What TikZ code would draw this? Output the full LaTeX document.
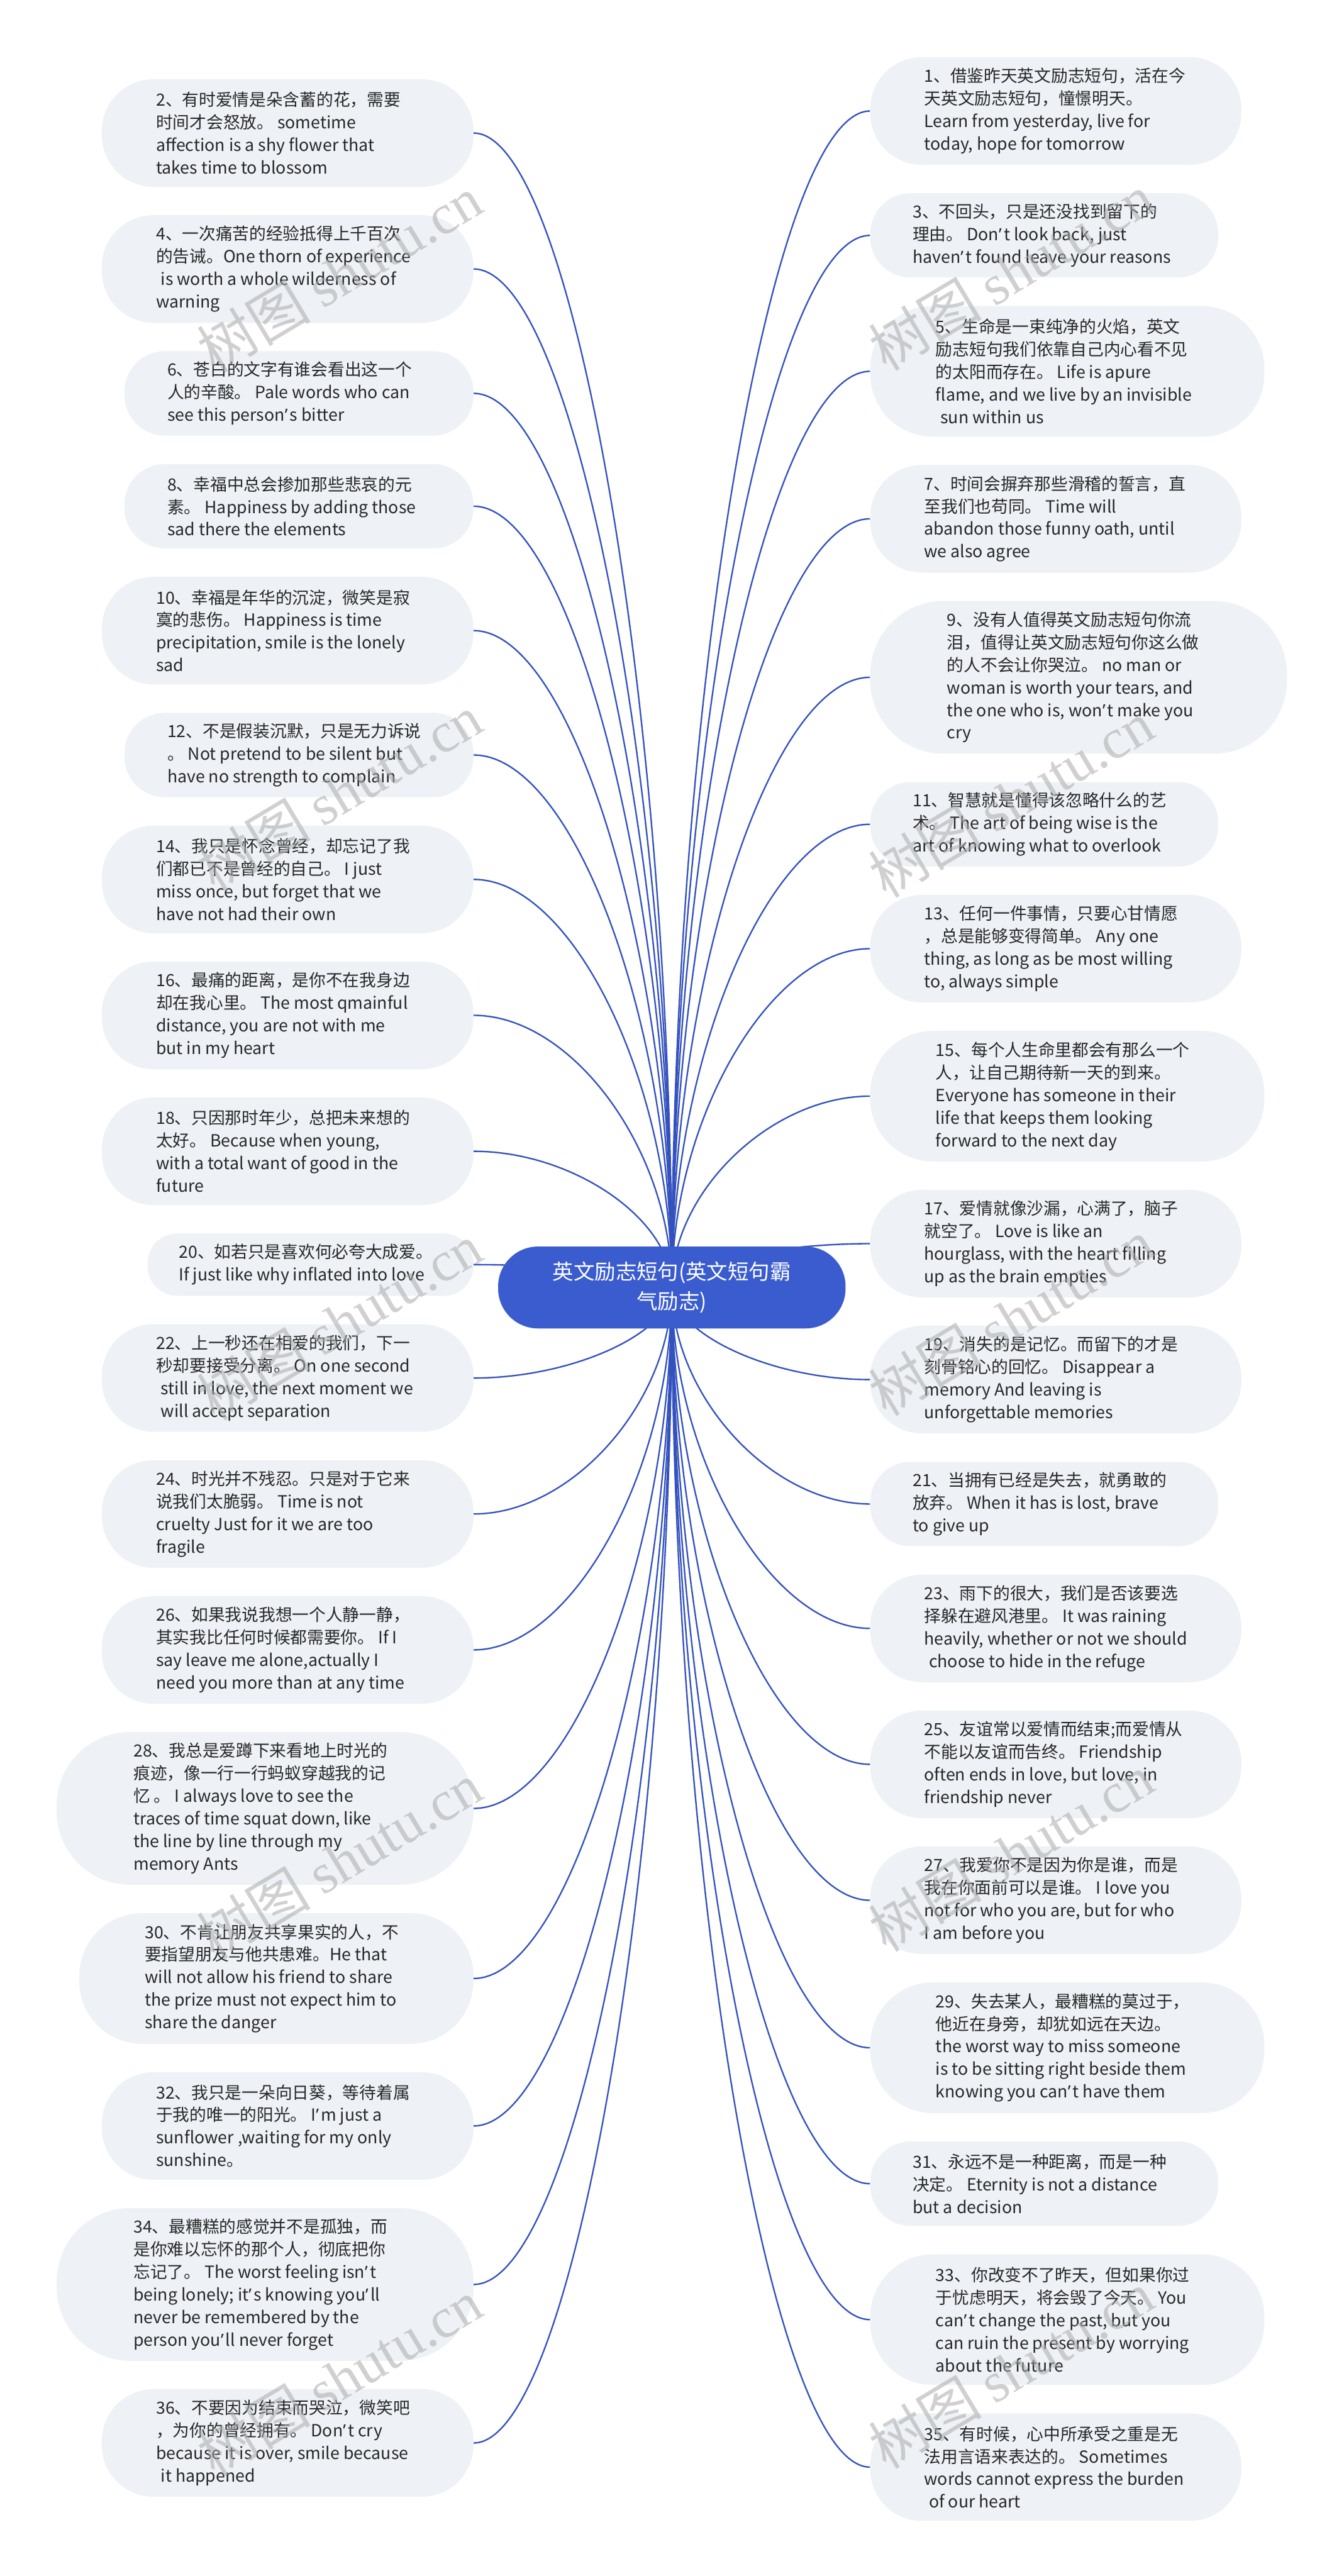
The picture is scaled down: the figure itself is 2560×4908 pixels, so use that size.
\documentclass[tikz,border=0pt]{standalone}
\usepackage{fontspec}
\setmainfont{Noto Sans CJK SC}
\newfontfamily\cjk{Noto Sans CJK SC}
\newfontfamily\latfont{Noto Sans}
\newfontfamily\wmfont{Liberation Serif}
\usetikzlibrary{calc}
\definecolor{pillfill}{RGB}{238,241,246}
\definecolor{txtcol}{RGB}{40,40,40}
\definecolor{rootblue}{RGB}{58,92,206}
\definecolor{linecol}{RGB}{52,82,190}
\definecolor{wmcol}{RGB}{170,170,170}
\pgfdeclarelayer{back}
\pgfdeclarelayer{bg}
\pgfsetlayers{back,bg,main}
\tikzset{
  pill/.style={fill=pillfill, draw=none, rectangle, inner sep=0pt},
  txt/.style={anchor=west, align=left, inner sep=0pt, text=txtcol,
    font=\fontsize{16pt}{21.5pt}\selectfont},
  conn/.style={draw=linecol, line width=1.4pt},
  rootbox/.style={fill=rootblue, text=white, align=center, inner sep=0pt,
    minimum width=331pt, minimum height=78pt, rounded corners=38pt,
    font=\fontsize{20pt}{28pt}\selectfont},
  wmark/.style={text=wmcol, opacity=0.55, inner sep=0pt, rotate=31,
    font=\fontsize{54pt}{60pt}\selectfont}
}
\newcommand\lnode[5]{%
  \node[pill, minimum width={(902-#2)*0.5pt}, minimum height={#4*0.5pt}, rounded corners={#4*0.24pt}] (p#1) at ({(902+#2)/2}, #3) {};
  \node[txt] (t#1) at ({(902+#2)/2-251}, #3) {#5};
}
\newcommand\rnode[5]{%
  \node[pill, minimum width={(#2-1658)*0.5pt}, minimum height={#4*0.5pt}, rounded corners={#4*0.24pt}] (p#1) at ({(1658+#2)/2}, #3) {};
  \node[txt] (t#1) at ({(1658+#2)/2-251}, #3) {#5};
}
\newcommand\lconn[1]{%
  \coordinate (k#1) at (root.center |- p#1.east);
  \draw[conn] (root.center) .. controls ($(root.center)!0.5!(k#1)$) and ($(p#1.east)!0.5!(k#1)$) .. (p#1.east);
}
\newcommand\rconn[1]{%
  \coordinate (k#1) at (root.center |- p#1.west);
  \draw[conn] (root.center) .. controls ($(root.center)!0.5!(k#1)$) and ($(p#1.west)!0.5!(k#1)$) .. (p#1.west);
}
\newcommand\lsp{\hspace*{0.28em}}
\newcommand\ap{{\latfont ’}\hspace{0.12em}}
\begin{document}
\begin{tikzpicture}[x=0.5pt, y=-0.5pt]
\begin{pgfonlayer}{back}
\fill[white] (0,0) rectangle (2560,4908);
\end{pgfonlayer}
\useasboundingbox (0,0) rectangle (2560,4908);

\node[rootbox] (root) at (1280,2453) {英文励志短句(英文短句霸\\气励志)};

% left column
\lnode{2}{194}{253.5}{205}{2、有时爱情是朵含蓄的花，需要\\时间才会怒放。 sometime\\affection is a shy flower that\\takes time to blossom}
\lnode{4}{194}{512.5}{205}{4、一次痛苦的经验抵得上千百次\\的告诫。One thorn of experience\\\lsp is worth a whole wilderness of\\warning}
\lnode{6}{237}{749.5}{161}{6、苍白的文字有谁会看出这一个\\人的辛酸。 Pale words who can\\see this person\ap s bitter}
\lnode{8}{237}{964.5}{161}{8、幸福中总会掺加那些悲哀的元\\素。 Happiness by adding those\\sad there the elements}
\lnode{10}{194}{1201.5}{205}{10、幸福是年华的沉淀，微笑是寂\\寞的悲伤。 Happiness is time\\precipitation, smile is the lonely\\sad}
\lnode{12}{237}{1438.5}{161}{12、不是假装沉默，只是无力诉说\\。 Not pretend to be silent but\\have no strength to complain}
\lnode{14}{194}{1675.5}{205}{14、我只是怀念曾经，却忘记了我\\们都已不是曾经的自己。 I just\\miss once, but forget that we\\have not had their own}
\lnode{16}{194}{1934.5}{205}{16、最痛的距离，是你不在我身边\\却在我心里。 The most qmainful\\distance, you are not with me\\but in my heart}
\lnode{18}{194}{2193.5}{205}{18、只因那时年少，总把未来想的\\太好。 Because when young,\\with a total want of good in the\\future}
\lnode{20}{281}{2409.5}{119}{20、如若只是喜欢何必夸大成爱。\\If just like why inflated into love}
\lnode{22}{194}{2625.5}{205}{22、上一秒还在相爱的我们，下一\\秒却要接受分离。 On one second\\\lsp still in love, the next moment we\\\lsp will accept separation}
\lnode{24}{194}{2884.5}{205}{24、时光并不残忍。只是对于它来\\说我们太脆弱。 Time is not\\cruelty Just for it we are too\\fragile}
\lnode{26}{194}{3143.5}{205}{26、如果我说我想一个人静一静，\\其实我比任何时候都需要你。 If I\\say leave me alone,actually I\\need you more than at any time}
\lnode{28}{108}{3445.5}{291}{28、我总是爱蹲下来看地上时光的\\痕迹，像一行一行蚂蚁穿越我的记\\忆 。 I always love to see the\\traces of time squat down, like\\the line by line through my\\memory Ants}
\lnode{30}{151}{3769.5}{249}{30、不肯让朋友共享果实的人，不\\要指望朋友与他共患难。He that\\will not allow his friend to share\\the prize must not expect him to\\share the danger}
\lnode{32}{194}{4050.5}{205}{32、我只是一朵向日葵，等待着属\\于我的唯一的阳光。 I\ap m just a\\sunflower ,waiting for my only\\sunshine。}
\lnode{34}{108}{4352.5}{291}{34、最糟糕的感觉并不是孤独，而\\是你难以忘怀的那个人，彻底把你\\忘记了。 The worst feeling isn\ap t\\being lonely; it\ap s knowing you\ap ll\\never be remembered by the\\person you\ap ll never forget}
\lnode{36}{194}{4654.5}{205}{36、不要因为结束而哭泣，微笑吧\\，为你的曾经拥有。 Don\ap t cry\\because it is over, smile because\\\lsp it happened}

% right column
\rnode{1}{2365}{211.5}{205}{1、借鉴昨天英文励志短句，活在今\\天英文励志短句，憧憬明天。\\Learn from yesterday, live for\\today, hope for tomorrow}
\rnode{3}{2321}{448.5}{161}{3、不回头，只是还没找到留下的\\理由。 Don\ap t look back, just\\haven\ap t found leave your reasons}
\rnode{5}{2409}{707.5}{249}{5、生命是一束纯净的火焰，英文\\励志短句我们依靠自己内心看不见\\的太阳而存在。 Life is apure\\flame, and we live by an invisible\\\lsp sun within us}
\rnode{7}{2365}{988.5}{205}{7、时间会摒弃那些滑稽的誓言，直\\至我们也苟同。 Time will\\abandon those funny oath, until\\we also agree}
\rnode{9}{2452}{1290.5}{291}{9、没有人值得英文励志短句你流\\泪，值得让英文励志短句你这么做\\的人不会让你哭泣。 no man or\\woman is worth your tears, and\\the one who is, won\ap t make you\\cry}
\rnode{11}{2321}{1570.5}{161}{11、智慧就是懂得该忽略什么的艺\\术。 The art of being wise is the\\art of knowing what to overlook}
\rnode{13}{2365}{1807.5}{205}{13、任何一件事情，只要心甘情愿\\，总是能够变得简单。 Any one\\thing, as long as be most willing\\to, always simple}
\rnode{15}{2409}{2088.5}{249}{15、每个人生命里都会有那么一个\\人，让自己期待新一天的到来。\\Everyone has someone in their\\life that keeps them looking\\forward to the next day}
\rnode{17}{2365}{2369.5}{205}{17、爱情就像沙漏，心满了，脑子\\就空了。 Love is like an\\hourglass, with the heart filling\\up as the brain empties}
\rnode{19}{2365}{2628.5}{205}{19、消失的是记忆。而留下的才是\\刻骨铭心的回忆。 Disappear a\\memory And leaving is\\unforgettable memories}
\rnode{21}{2321}{2865.5}{161}{21、当拥有已经是失去，就勇敢的\\放弃。 When it has is lost, brave\\to give up}
\rnode{23}{2365}{3102.5}{205}{23、雨下的很大，我们是否该要选\\择躲在避风港里。 It was raining\\heavily, whether or not we should\\\lsp choose to hide in the refuge}
\rnode{25}{2365}{3361.5}{205}{25、友谊常以爱情而结束;而爱情从\\不能以友谊而告终。 Friendship\\often ends in love, but love, in\\friendship never}
\rnode{27}{2365}{3620.5}{205}{27、我爱你不是因为你是谁，而是\\我在你面前可以是谁。 I love you\\not for who you are, but for who\\I am before you}
\rnode{29}{2409}{3901.5}{249}{29、失去某人，最糟糕的莫过于，\\他近在身旁，却犹如远在天边。\\the worst way to miss someone\\is to be sitting right beside them\\knowing you can\ap t have them}
\rnode{31}{2321}{4160.5}{161}{31、永远不是一种距离，而是一种\\决定。 Eternity is not a distance\\but a decision}
\rnode{33}{2409}{4419.5}{249}{33、你改变不了昨天，但如果你过\\于忧虑明天，将会毁了今天。 You\\can\ap t change the past, but you\\can ruin the present by worrying\\about the future}
\rnode{35}{2365}{4700.5}{205}{35、有时候，心中所承受之重是无\\法用言语来表达的。 Sometimes\\words cannot express the burden\\\lsp of our heart}

\begin{pgfonlayer}{bg}
\lconn{2}\lconn{4}\lconn{6}\lconn{8}\lconn{10}\lconn{12}\lconn{14}\lconn{16}\lconn{18}
\lconn{20}\lconn{22}\lconn{24}\lconn{26}\lconn{28}\lconn{30}\lconn{32}\lconn{34}\lconn{36}
\rconn{1}\rconn{3}\rconn{5}\rconn{7}\rconn{9}\rconn{11}\rconn{13}\rconn{15}\rconn{17}
\rconn{19}\rconn{21}\rconn{23}\rconn{25}\rconn{27}\rconn{29}\rconn{31}\rconn{33}\rconn{35}
\end{pgfonlayer}

% watermarks
\node[wmark] (w1) at (647,522) {{\cjk 树图} {\wmfont shutu.cn}};
\node[wmark] (w2) at (647,1510) {{\cjk 树图} {\wmfont shutu.cn}};
\node[wmark] (w3) at (647,2518) {{\cjk 树图} {\wmfont shutu.cn}};
\node[wmark] (w4) at (647,3545) {{\cjk 树图} {\wmfont shutu.cn}};
\node[wmark] (w5) at (647,4530) {{\cjk 树图} {\wmfont shutu.cn}};
\node[wmark] (w6) at (1926,518) {{\cjk 树图} {\wmfont shutu.cn}};
\node[wmark] (w7) at (1926,1522) {{\cjk 树图} {\wmfont shutu.cn}};
\node[wmark] (w8) at (1926,2510) {{\cjk 树图} {\wmfont shutu.cn}};
\node[wmark] (w9) at (1926,3530) {{\cjk 树图} {\wmfont shutu.cn}};
\node[wmark] (w10) at (1926,4515) {{\cjk 树图} {\wmfont shutu.cn}};
\end{tikzpicture}
\end{document}
